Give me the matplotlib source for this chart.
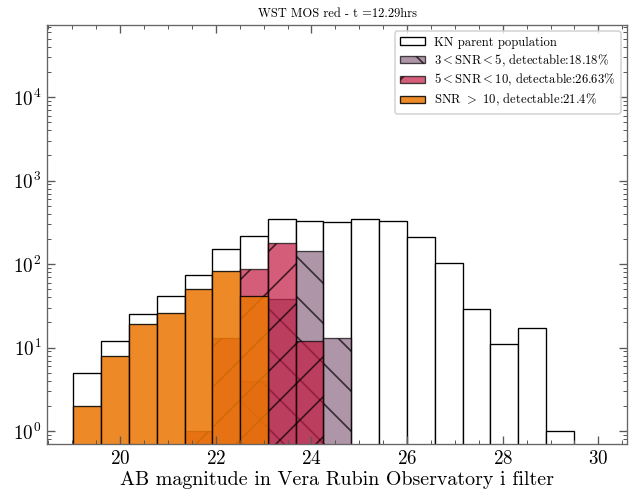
import matplotlib
matplotlib.use("Agg")
import matplotlib.pyplot as plt
import numpy as np
from matplotlib.ticker import MultipleLocator

plt.rcParams["font.family"] = "cmr10"
plt.rcParams["mathtext.fontset"] = "cm"
plt.rcParams["axes.formatter.use_mathtext"] = True
plt.rcParams["axes.unicode_minus"] = False

# histogram bins (AB mag) and counts
bin_edges = np.array([19.02, 19.60, 20.18, 20.76, 21.35, 21.93, 22.51, 23.09, 23.67,
                      24.25, 24.83, 25.42, 26.00, 26.58, 27.16, 27.74, 28.32, 28.91, 29.49])
parent = np.array([5, 12, 25, 41, 73, 150, 216, 346, 330, 316, 343, 330, 212, 102, 29, 11, 17, 1])
snr_3_5 = np.array([0, 0, 0, 0, 0, 0, 4, 38, 143, 13, 0, 0, 0, 0, 0, 0, 0, 0])
snr_5_10 = np.array([0, 0, 0, 0, 1, 13, 87, 177, 12, 0, 0, 0, 0, 0, 0, 0, 0, 0])
snr_10 = np.array([2, 8, 19, 26, 51, 82, 41, 0, 0, 0, 0, 0, 0, 0, 0, 0, 0, 0])

labels = [
    "KN parent population",
    r"3$<$SNR$<$5, detectable:18.18%",
    r"5$<$SNR$<$10, detectable:26.63%",
    r"SNR $>$ 10, detectable:21.4%",
]


def draw_hist(ax, counts, **kw):
    left = bin_edges[:-1]
    width = np.diff(bin_edges)
    keep = counts > 0
    return ax.bar(left[keep], counts[keep], width=width[keep], align="edge", **kw)


fig = plt.figure(figsize=(5.3, 4.125), dpi=120)
ax = fig.add_axes([0.0739, 0.103, 0.912, 0.8465])

draw_hist(ax, parent, color="white", edgecolor="k", linewidth=0.8, label=labels[0])
draw_hist(ax, snr_3_5, color="#8d6983", edgecolor="k", linewidth=0.8, alpha=0.7,
          hatch="\\", label=labels[1])
draw_hist(ax, snr_5_10, color="#c21a41", edgecolor="k", linewidth=0.8, alpha=0.7,
          hatch="/", label=labels[2])
draw_hist(ax, snr_10, color="#eb7602", edgecolor="k", linewidth=0.8, alpha=0.86,
          label=labels[3])

ax.set_yscale("log")
ax.set_xlim(18.47, 30.6)
ax.set_ylim(0.7, 7.3e4)
ax.xaxis.set_major_locator(MultipleLocator(2))
ax.xaxis.set_minor_locator(MultipleLocator(0.5))
ax.tick_params(which="both", direction="in", top=True, right=True, color="0.35",
               labelsize=11.5)
ax.tick_params(which="major", length=5, width=0.8)
ax.tick_params(which="minor", length=2.5, width=0.6)
for s in ax.spines.values():
    s.set_color("0.4")
    s.set_linewidth(0.8)

ax.set_xlabel("AB magnitude in Vera Rubin Observatory i filter", fontsize=12, labelpad=2)
ax.set_title("WST MOS red - t =12.29hrs", fontsize=7.5, pad=5)

ax.legend(loc="upper right", fontsize=7.6, handlelength=2.0, handleheight=0.55,
          handletextpad=0.7, borderaxespad=0.5, labelspacing=0.3, fancybox=True)

fig.savefig("out.png", dpi=120)
